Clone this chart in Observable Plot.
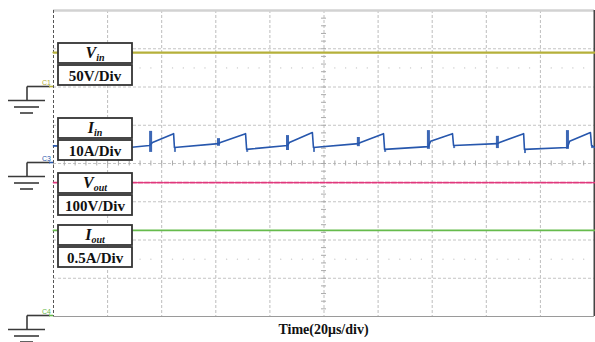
<!DOCTYPE html>
<html><head><meta charset="utf-8">
<script src="https://cdn.jsdelivr.net/npm/d3@7"></script>
<script src="https://cdn.jsdelivr.net/npm/@observablehq/plot@0.6"></script>
<style>body{margin:0;background:#fff}</style>
</head><body><div id="chart"></div>
<script>
// ---- data (time in µs, 20 µs/div; amplitude in screen divisions) ----
const timeDomain = [0, 200];
const divDomain = [-4, 4];
const gridTimes = [20, 40, 60, 80, 100, 120, 140, 160, 180];
const gridDivs = [-3, -2, -1, 0, 1, 2, 3];
const axisTitle = "Time(20μs/div)";

const channelIds = ["C1", "C3", "C4"];
const channelGround = [2, 0, -4];

const labelNames = [["V", "in"], ["I", "in"], ["V", "out"], ["I", "out"]];
const labelScales = ["50V/Div", "10A/Div", "100V/Div", "0.5A/Div"];

const vinTime = [0, 40, 80, 120, 160, 200];
const vinLevel = [2.90, 2.90, 2.90, 2.90, 2.90, 2.90];

const voutTime = [0, 50, 100, 150, 200];
const voutLevel = [-0.50, -0.50, -0.50, -0.50, -0.50];

const ioutTime = [0, 50, 100, 150, 200];
const ioutLevel = [-1.75, -1.75, -1.75, -1.75, -1.75];

const iinTime = [0, 28, 35.5, 36.6, 44.4, 44.7, 61.0, 61.7, 71.0, 71.4, 86.5, 87.2, 95.7, 96.1,
  112.7, 113.5, 122.0, 122.4, 138.6, 139.4, 147.5, 147.9, 164.1, 164.9, 173.8, 174.1,
  190.0, 190.8, 198.5, 198.9, 200];
const iinValue = [0.46, 0.42, 0.47, 0.55, 0.78, 0.42, 0.52, 0.55, 0.78, 0.37, 0.47, 0.55, 0.81, 0.42,
  0.52, 0.55, 0.78, 0.37, 0.44, 0.58, 0.78, 0.47, 0.52, 0.55, 0.78, 0.37,
  0.42, 0.58, 0.81, 0.47, 0.42];

const spikeTime = [35.9, 61.0, 86.5, 112.7, 138.6, 164.1, 190.0];
const spikeHi = [0.84, 0.65, 0.73, 0.68, 0.86, 0.71, 0.86];
const spikeLo = [0.29, 0.45, 0.34, 0.44, 0.37, 0.39, 0.37];

const dropTime = [44.9, 71.6, 96.3, 122.6, 148.1, 174.3, 199.1];
const dropTop = [0.42, 0.37, 0.42, 0.37, 0.47, 0.37, 0.47];
const dropLo = [0.29, 0.29, 0.29, 0.29, 0.39, 0.26, 0.39];

// ---- tables built from the arrays ----
const zip = (xs, ys) => xs.map((x, i) => ({t: x, v: ys[i]}));
const vin = zip(vinTime, vinLevel);
const vout = zip(voutTime, voutLevel);
const iout = zip(ioutTime, ioutLevel);
const iin = zip(iinTime, iinValue);
const spikes = spikeTime.map((t, i) => ({t, lo: spikeLo[i], hi: spikeHi[i]}));
const drops = dropTime.map((t, i) => ({t, lo: dropLo[i], hi: dropTop[i]}));
const minorTimes = d3.range(0, 200.01, 4);
const minorDivs = d3.range(-4, 4.01, 0.2);
const dotRows = [2.5, -2.5].flatMap(r => minorTimes.filter(t => t % 20 !== 0).map(t => ({t, r})));

// ---- style ----
const COL = {vin: "#b5b03a", iin: "#2757ad", vout: "#e0387c", iout: "#66bb4c"};
const chColor = [COL.vin, COL.iin, COL.iout];
const labelTopDiv = [3.14, 1.18, -0.26, -1.62]; // layout anchors for annotation boxes
const serif = "'Liberation Serif','Times New Roman',serif";

function overlay(index, scales, values, dim) {
  const x = scales.x, y = scales.y;
  const L = dim.marginLeft;
  const g = d3.create("svg:g");
  // ground markers
  channelIds.forEach((id, i) => {
    const gy = Math.round(y(channelGround[i])) - 0.5;
    const gg = g.append("g").attr("stroke", "#3a3a3a").attr("stroke-width", 1.6);
    gg.append("line").attr("x1", 27).attr("x2", L - 3).attr("y1", gy).attr("y2", gy);
    gg.append("line").attr("x1", L - 4).attr("x2", L).attr("y1", gy).attr("y2", gy).attr("stroke", chColor[i]);
    gg.append("line").attr("x1", 27).attr("x2", 27).attr("y1", gy).attr("y2", gy + 14);
    gg.append("line").attr("x1", 8).attr("x2", 45).attr("y1", gy + 14).attr("y2", gy + 14);
    gg.append("line").attr("x1", 14).attr("x2", 39).attr("y1", gy + 20.5).attr("y2", gy + 20.5);
    gg.append("line").attr("x1", 20).attr("x2", 33).attr("y1", gy + 26.5).attr("y2", gy + 26.5);
    g.append("text").attr("x", L - 2).attr("y", gy - 2).attr("text-anchor", "end")
      .attr("font-family", "Liberation Sans, Arial, sans-serif").attr("font-size", 7)
      .attr("fill", chColor[i]).text(id);
  });
  // label boxes
  labelNames.forEach((nm, i) => {
    const top = Math.round(y(labelTopDiv[i]));
    const bx = 58, bw = 74, bh = 20;
    const b = g.append("g");
    b.append("rect").attr("x", bx).attr("y", top).attr("width", bw).attr("height", bh)
      .attr("fill", "#fff").attr("stroke", "#333").attr("stroke-width", 1.8);
    b.append("rect").attr("x", bx).attr("y", top + bh + 2).attr("width", bw).attr("height", bh)
      .attr("fill", "#fff").attr("stroke", "#333").attr("stroke-width", 1.8);
    const t1 = b.append("text").attr("x", bx + bw / 2).attr("y", top + 15).attr("text-anchor", "middle")
      .attr("font-family", serif).attr("font-weight", "bold").attr("font-style", "italic").attr("font-size", 16).attr("fill", "#111");
    t1.append("tspan").text(nm[0]);
    t1.append("tspan").attr("font-size", 10).attr("dy", 3).text(nm[1]);
    b.append("text").attr("x", bx + bw / 2).attr("y", top + bh + 2 + 15.5).attr("text-anchor", "middle")
      .attr("font-family", serif).attr("font-weight", "bold").attr("font-size", 15).attr("fill", "#111")
      .text(labelScales[i]);
  });
  // axis title
  g.append("text").attr("x", (x(timeDomain[0]) + x(timeDomain[1])) / 2).attr("y", 334)
    .attr("text-anchor", "middle").attr("font-family", serif).attr("font-weight", "bold")
    .attr("font-size", 14).attr("fill", "#111").text(axisTitle);
  return g.node();
}

const chart = Plot.plot({
  width: 595, height: 342,
  marginLeft: 53, marginRight: 1, marginTop: 10, marginBottom: 26,
  x: {domain: timeDomain, axis: null},
  y: {domain: divDomain, axis: null},
  marks: [
    Plot.ruleX(gridTimes, {stroke: "#bdbdbd", strokeDasharray: "3,2"}),
    Plot.ruleY(gridDivs, {stroke: "#c4c4c4", strokeDasharray: "3,2"}),
    Plot.ruleX(minorTimes, {x: d => d, y1: 0, y2: 0, insetTop: -2.5, insetBottom: -2.5, stroke: "#aaa"}),
    Plot.ruleY(minorDivs, {y: d => d, x1: 100, x2: 100, insetLeft: -2.5, insetRight: -2.5, stroke: "#aaa"}),
    Plot.dot(dotRows, {x: "t", y: "r", r: 0.7, fill: "#c8c8c8", stroke: null}),
    Plot.ruleY([divDomain[1]], {stroke: "#d2d2d2", strokeWidth: 2.5}),
    Plot.ruleY([divDomain[0]], {stroke: "#9a9a9a", strokeWidth: 1}),
    Plot.ruleX([timeDomain[0]], {stroke: "#555", strokeDasharray: "3,2", strokeWidth: 1}),
    Plot.ruleX([timeDomain[1]], {stroke: "#444", strokeWidth: 2}),
    Plot.line(vin, {x: "t", y: "v", stroke: COL.vin, strokeWidth: 2.2}),
    Plot.line(vout, {x: "t", y: "v", stroke: COL.vout, strokeWidth: 1.6, strokeDasharray: "5,1.5"}),
    Plot.line(iout, {x: "t", y: "v", stroke: COL.iout, strokeWidth: 1.8}),
    Plot.ruleX(drops, {x: "t", y1: "lo", y2: "hi", stroke: COL.iin, strokeWidth: 2, strokeOpacity: 0.8}),
    Plot.ruleX(spikes, {x: "t", y1: "lo", y2: "hi", stroke: COL.iin, strokeWidth: 3, strokeOpacity: 0.9}),
    Plot.line(iin, {x: "t", y: "v", stroke: COL.iin, strokeWidth: 1.6}),
    overlay
  ]
});
document.getElementById("chart").append(chart);
</script>
</body></html>
